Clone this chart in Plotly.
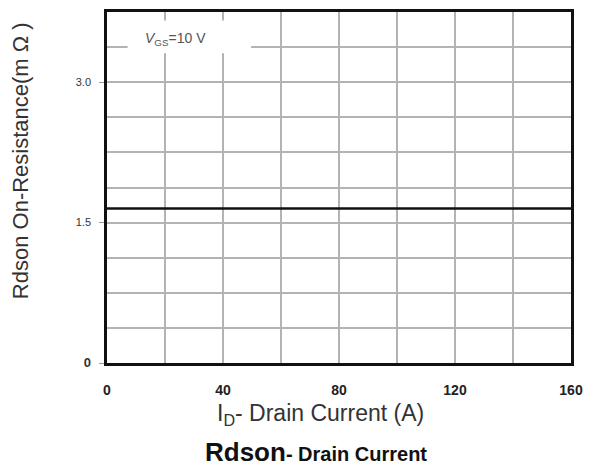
import plotly.graph_objects as go

# Data
drain_current_a = [0, 160]
rdson_mohm = [1.65, 1.65]

x_tick_vals = [0, 40, 80, 120, 160]
x_tick_text = ["<b>0</b>", "<b>40</b>", "<b>80</b>", "<b>120</b>", "<b>160</b>"]
y_tick_vals = [0, 1.5, 3.0]
y_tick_text = ["<b><span style='font-size:13px'>0</span></b>", "1.5", "3.0"]

x_title = "I<sub>D</sub>- Drain Current (A)"
y_title = "Rdson On-Resistance(m Ω )"
chart_title = "<b>Rdson<span style='font-size:20px'>- Drain Current</span></b>"
vgs_label = "<i>V</i><sub>GS</sub>=10 V"

fig = go.Figure()
fig.add_trace(go.Scatter(
    x=drain_current_a, y=rdson_mohm, mode="lines",
    line=dict(color="#111111", width=2.6), showlegend=False,
))

grid_color = "#b3b3b3"
fig.update_xaxes(
    range=[0, 160], tickvals=x_tick_vals, ticktext=x_tick_text,
    tickfont=dict(family="Arial, Liberation Sans", size=14, color="#222"),
    showgrid=True, gridcolor=grid_color, gridwidth=1.5,
    minor=dict(dtick=20, showgrid=True, gridcolor=grid_color, gridwidth=1.5),
    showline=True, linecolor="#111", linewidth=2.5, mirror=True,
    ticks="", ticklabelstandoff=12, zeroline=False,
)
fig.update_yaxes(
    range=[0, 3.75], tickvals=y_tick_vals, ticktext=y_tick_text,
    tickfont=dict(family="Arial, Liberation Sans", size=11, color="#333"),
    showgrid=True, gridcolor=grid_color, gridwidth=1.5,
    minor=dict(dtick=0.375, showgrid=True, gridcolor=grid_color, gridwidth=1.5),
    showline=True, linecolor="#111", linewidth=2.5, mirror=True,
    ticks="outside", ticklen=5, tickcolor="#999", tickwidth=1,
    ticklabelstandoff=6, zeroline=False,
)

fig.add_shape(type="rect", xref="x", yref="y", x0=7.1, x1=49.7, y0=3.31, y1=3.66,
              fillcolor="white", line=dict(width=0), layer="above")

fig.add_annotation(text=vgs_label, xref="x", yref="y", x=12.5, y=3.46,
                   xanchor="left", yanchor="middle", showarrow=False,
                   font=dict(family="Arial, Liberation Sans", size=14, color="#555"))

fig.add_annotation(text=x_title, xref="paper", yref="paper", x=0.46, y=0,
                   xanchor="center", yanchor="middle", yshift=-51, showarrow=False,
                   font=dict(family="Arial, Liberation Sans", size=23, color="#333"))
fig.add_annotation(text=chart_title, xref="paper", yref="paper", x=0.45, y=0,
                   xanchor="center", yanchor="middle", yshift=-89, showarrow=False,
                   font=dict(family="Arial, Liberation Sans", size=26, color="#111"))
fig.add_annotation(text=y_title, xref="paper", yref="paper", x=0, y=0.575,
                   xanchor="center", yanchor="middle", xshift=-87, textangle=-90,
                   showarrow=False,
                   font=dict(family="Arial, Liberation Sans", size=22, color="#333"))

fig.update_layout(
    width=592, height=469,
    margin=dict(l=107, r=15, t=9, b=106),
    paper_bgcolor="white", plot_bgcolor="white",
)

fig.write_html("out.html")
